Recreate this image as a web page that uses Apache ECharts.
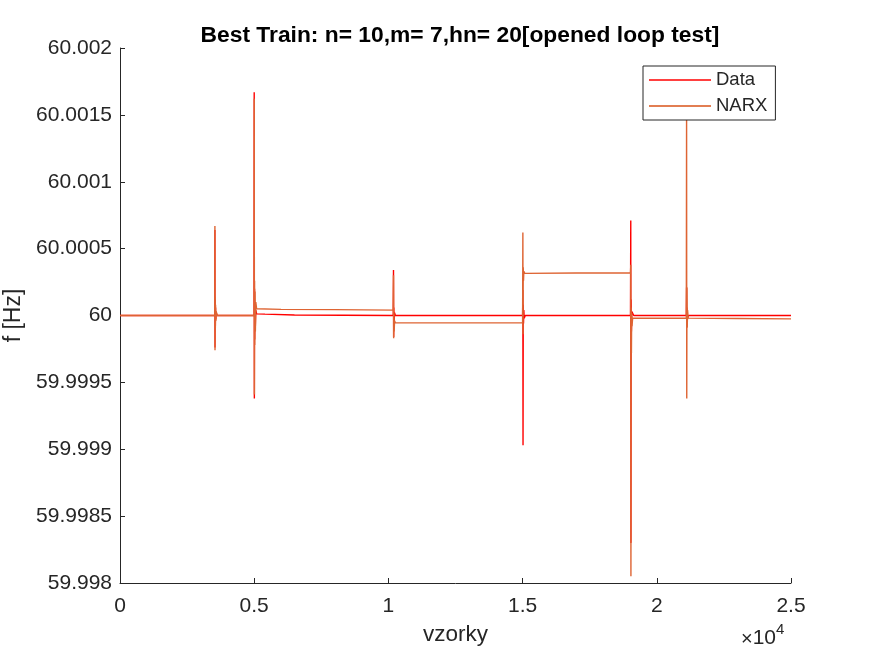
<!DOCTYPE html>
<html>
<head>
<meta charset="utf-8">
<script src="https://cdn.jsdelivr.net/npm/echarts@6/dist/echarts.min.js"></script>
<style>
  html, body { margin: 0; padding: 0; background: #fff; }
  #chart { width: 875px; height: 656px; }
</style>
</head>
<body>
<div id="chart"></div>
<script>
// vzorky (sample index) vs f [Hz]
const dataPoints = [
  [0, 60.0], [3530, 60.0], [3536, 60.00064], [3540, 59.99976], [3546, 60.00012], [3552, 59.99992], [3560, 60.00006],
  [3570, 59.99997], [3585, 60.00002], [3620, 60.0],
  [4995, 60.0], [5000, 60.00167], [5006, 59.99938], [5012, 60.0002], [5020, 59.99982], [5030, 60.0001], [5042, 59.99992],
  [5060, 60.00004], [5090, 60.000012], [5400, 60.00001], [6500, 60.000004], [10180, 60.0],
  [10190, 60.00034], [10196, 59.99984], [10204, 60.00006], [10214, 59.99996], [10230, 60.00002], [10260, 60.0],
  [15000, 60.0], [15010, 60.00019], [15016, 59.99903], [15024, 60.00008], [15034, 59.99994], [15046, 60.00004],
  [15060, 59.99998], [15100, 60.0],
  [19020, 60.0], [19030, 60.00071], [19036, 59.9983], [19044, 60.00012], [19054, 59.99988], [19070, 60.00003], [19140, 60.0],
  [21100, 60.0], [21110, 60.00021], [21116, 59.99991], [21124, 60.00006], [21136, 59.99997], [21180, 60.0],
  [25000, 60.0]
];

const narxPoints = [
  [0, 60.0], [3530, 60.0], [3536, 60.00067], [3540, 59.99974], [3546, 60.00014], [3552, 59.9999], [3560, 60.00008],
  [3570, 59.99996], [3585, 60.00003], [3620, 60.0],
  [4995, 60.0], [5002, 60.00162], [5008, 59.99941], [5014, 60.00026], [5022, 59.99978], [5032, 60.00018], [5044, 59.99988],
  [5060, 60.0001], [5090, 60.00005], [6000, 60.000046], [8000, 60.000044], [10180, 60.00004],
  [10190, 60.0003], [10196, 59.99983], [10204, 60.00002], [10214, 59.99988], [10230, 59.99996], [10260, 59.999945],
  [12500, 59.999945], [15000, 59.999945],
  [15010, 60.00062], [15016, 59.99986], [15024, 60.00036], [15034, 60.00026], [15046, 60.00033], [15080, 60.000315],
  [17000, 60.000318], [19020, 60.00032],
  [19030, 60.00038], [19036, 59.99805], [19044, 60.00006], [19054, 59.99972], [19064, 60.00002], [19076, 59.99992],
  [19100, 59.99998], [20000, 59.99998], [21100, 59.99998],
  [21110, 60.00158], [21116, 59.99938], [21124, 60.00021], [21134, 59.99991], [21146, 60.00004], [21170, 59.99998],
  [23000, 59.999978], [25000, 59.999975]
];

const yTicks = { min: 59.998, max: 60.002, step: 0.0005 };
const xTicks = { min: 0, max: 25000, step: 5000 };

const chart = echarts.init(document.getElementById('chart'), null, { renderer: 'canvas' });

const axisColor = '#262626';
const fontFam = '"Liberation Sans", Arial, Helvetica, sans-serif';

const option = {
  animation: false,
  backgroundColor: '#fff',
  title: {
    text: 'Best Train: n= 10,m= 7,hn= 20[opened loop test]',
    left: 455,
    top: 19,
    textAlign: 'center',
    textStyle: { fontFamily: fontFam, fontSize: 22.8, fontWeight: 'bold', color: '#000' }
  },
  legend: {
    left: 643,
    top: 66,
    orient: 'vertical',
    backgroundColor: '#fff',
    borderColor: axisColor,
    borderWidth: 1,
    borderRadius: 0,
    padding: [4, 8, 4, 6],
    itemWidth: 62,
    itemHeight: 1.3,
    itemGap: 6,
    textStyle: { fontFamily: fontFam, fontSize: 18.5, color: axisColor, lineHeight: 20 },
    data: [
      { name: 'Data', icon: 'rect', itemStyle: { color: '#ff0000' } },
      { name: 'NARX', icon: 'rect', itemStyle: { color: '#D95319' } }
    ]
  },
  grid: { left: 120, right: 84, top: 48, bottom: 73, containLabel: false, outerBoundsMode: 'none' },
  xAxis: {
    type: 'value',
    min: xTicks.min,
    max: xTicks.max,
    interval: xTicks.step,
    name: 'vzorky',
    nameLocation: 'middle',
    nameGap: 40,
    nameTextStyle: { fontFamily: fontFam, fontSize: 22.5, color: axisColor },
    axisLine: { onZero: false, lineStyle: { color: axisColor, width: 1 } },
    axisTick: { inside: true, length: 5, lineStyle: { color: axisColor } },
    axisLabel: {
      fontFamily: fontFam, fontSize: 21, color: axisColor, margin: 13,
      formatter: v => String(+(v / 10000).toFixed(2))
    },
    splitLine: { show: false }
  },
  yAxis: {
    type: 'value',
    min: yTicks.min,
    max: yTicks.max,
    interval: yTicks.step,
    name: 'f [Hz]',
    nameLocation: 'middle',
    nameGap: 86,
    nameTextStyle: { fontFamily: fontFam, fontSize: 23, color: axisColor },
    axisLine: { show: true, onZero: false, lineStyle: { color: axisColor, width: 1 } },
    axisTick: { show: true, inside: true, length: 5, lineStyle: { color: axisColor } },
    axisLabel: {
      fontFamily: fontFam, fontSize: 21, color: axisColor, margin: 8,
      formatter: v => String(+v.toFixed(4))
    },
    splitLine: { show: false }
  },
  graphic: [{
    type: 'text',
    left: 741,
    top: 622,
    style: {
      text: '{x|×}{b|10}{e|4}',
      rich: {
        x: { fontFamily: fontFam, fontSize: 20, fill: axisColor, verticalAlign: 'bottom' },
        b: { fontFamily: fontFam, fontSize: 21, fill: axisColor, verticalAlign: 'bottom' },
        e: { fontFamily: fontFam, fontSize: 15, fill: axisColor, verticalAlign: 'top', padding: [0, 0, 12, 0] }
      }
    }
  }],
  series: [
    {
      name: 'Data',
      type: 'line',
      data: dataPoints,
      showSymbol: false,
      symbol: 'none',
      lineStyle: { color: '#ff0000', width: 1.4 },
      itemStyle: { color: '#ff0000' }
    },
    {
      name: 'NARX',
      type: 'line',
      data: narxPoints,
      showSymbol: false,
      symbol: 'none',
      lineStyle: { color: '#DE6433', width: 1.4 },
      itemStyle: { color: '#D95319' }
    }
  ]
};

chart.setOption(option);
</script>
</body>
</html>
